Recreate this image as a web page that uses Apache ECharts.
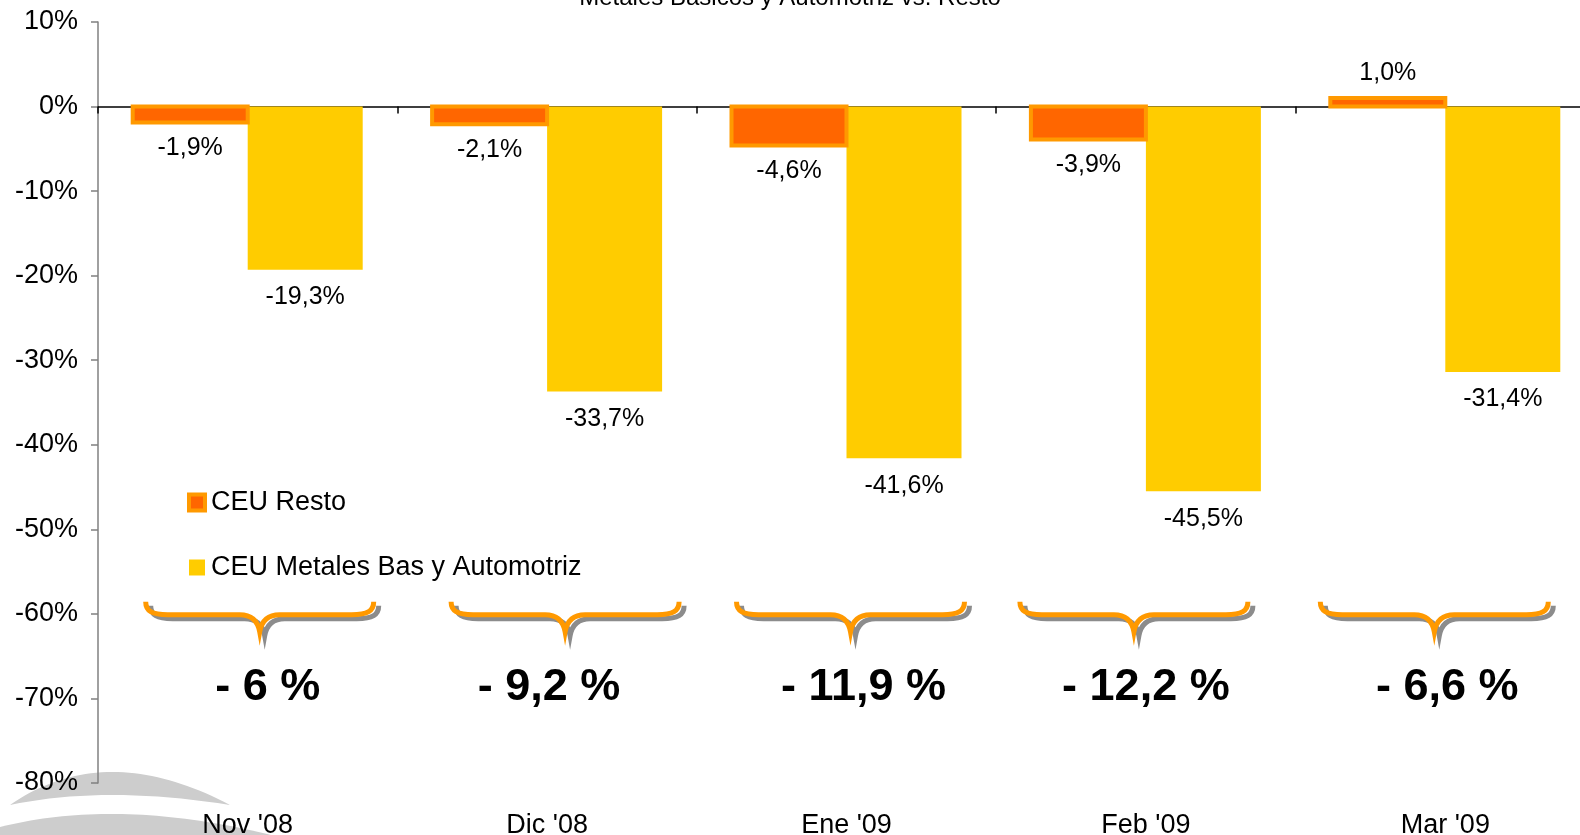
<!DOCTYPE html>
<html><head><meta charset="utf-8">
<script src="https://cdn.jsdelivr.net/npm/echarts@6/dist/echarts.min.js"></script>
<style>html,body{margin:0;padding:0;background:#fff}#c{width:1580px;height:835px}</style>
</head><body><div id="c"></div>
<script>
// ---- data ----
const titleText = 'Metales Básicos y Automotriz vs. Resto';
const categories = ["Nov '08", "Dic '08", "Ene '09", "Feb '09", "Mar '09"];
const seriesNames = ['CEU Resto', 'CEU Metales Bas y Automotriz'];
const ceuResto = [-1.9, -2.1, -4.6, -3.9, 1.0];
const ceuMetales = [-19.3, -33.7, -41.6, -45.5, -31.4];
const groupTotals = [-6, -9.2, -11.9, -12.2, -6.6];

// ---- layout / style constants ----
const FONT = 'Arial, "Liberation Sans", sans-serif';
const BAR_W = 115;
const braceLevel = -60.1;
const braceShift = [12, 18, 4, -12, -11];
const totalShift = [20, 2, 17, 0, 2];

const fmtPct = v => v.toFixed(1).replace('.', ',') + '%';
const fmtTotal = v => '- ' + String(Math.abs(v)).replace('.', ',') + ' %';

// bar drawn through the axes' scales (api.coord); side -1 = left of category centre, 0 = right
function barRenderer(side, fill, stroke, lineWidth, gapNeg, gapPos) {
  return function (params, api) {
    const c = api.value(0), v = api.value(1);
    const base = api.coord([c, 0]);
    const end = api.coord([c, v]);
    const x = base[0] + side * BAR_W;
    const y = Math.min(base[1], end[1]);
    const h = Math.abs(end[1] - base[1]);
    const neg = v < 0;
    const rectStyle = { fill: fill };
    if (stroke) { rectStyle.stroke = stroke; rectStyle.lineWidth = lineWidth; }
    return {
      type: 'group',
      children: [
        { type: 'rect', shape: { x: x, y: y, width: BAR_W, height: h }, style: rectStyle },
        { type: 'text', x: x + BAR_W / 2, y: neg ? end[1] + gapNeg : end[1] - gapPos,
          style: { text: fmtPct(v), font: '25px ' + FONT, fill: '#000', align: 'center', verticalAlign: neg ? 'top' : 'bottom' } }
      ]
    };
  };
}

// decorative logo swoosh outline (quadratic curves sampled to polygon points)
function quad(p0, c, p1, n) {
  const pts = [];
  for (let k = 0; k <= n; k++) {
    const t = k / n, u = 1 - t;
    pts.push([u * u * p0[0] + 2 * u * t * c[0] + t * t * p1[0], u * u * p0[1] + 2 * u * t * c[1] + t * t * p1[1]]);
  }
  return pts;
}
const swoosh1 = quad([10, 805], [105, 739], [230, 805], 40).concat(quad([230, 805], [105, 785], [10, 805], 40));
const swoosh2 = quad([0, 827], [120, 797], [275, 836], 40).concat([[0, 836]]);

const chart = echarts.init(document.getElementById('c'));
try {
chart.setOption({
  animation: false,
  backgroundColor: '#fff',
  textStyle: { fontFamily: FONT },
  title: {
    text: titleText, left: 'center', top: -19,
    textStyle: { fontSize: 24, fontWeight: 'normal', color: '#000', fontFamily: FONT }
  },
  legend: {
    orient: 'vertical', left: 182, top: 484, itemWidth: 16, itemHeight: 16, itemGap: 38,
    icon: 'rect',
    data: [
      { name: seriesNames[0], itemStyle: { color: '#FF6600', borderColor: '#FF9900', borderWidth: 4 } },
      { name: seriesNames[1], itemStyle: { color: '#FFCC00', borderWidth: 0 } }
    ],
    textStyle: { fontSize: 27, color: '#000', fontFamily: FONT, lineHeight: 27, padding: [0, 0, 0, 1] }
  },
  grid: { left: 98, right: -15, top: 22, bottom: 52, containLabel: false, outerBoundsMode: 'none' },
  xAxis: [
    {
      type: 'category', data: categories, position: 'bottom',
      axisLine: { show: false, onZero: false }, axisTick: { show: false },
      axisLabel: { fontSize: 27, color: '#000', margin: 29, fontFamily: FONT }
    },
    {
      type: 'category', data: categories, position: 'bottom',
      axisLine: { show: true, onZero: true, lineStyle: { color: '#000', width: 1.5 } },
      axisTick: { show: true, length: 7, lineStyle: { color: '#000', width: 1.5 } },
      axisLabel: { show: false }
    }
  ],
  yAxis: {
    type: 'value', min: -80, max: 10, interval: 10,
    axisLine: { show: true, lineStyle: { color: '#808080', width: 1.5 } },
    axisTick: { show: true, length: 7, lineStyle: { color: '#808080', width: 1.5 } },
    splitLine: { show: false },
    axisLabel: { formatter: '{value}%', fontSize: 27, color: '#000', margin: 20, padding: [3, 0, 0, 0], fontFamily: FONT }
  },
  graphic: [
    { type: 'polygon', z: -10, shape: { points: swoosh1 }, style: { fill: '#CDCDCD' } },
    { type: 'polygon', z: -10, shape: { points: swoosh2 }, style: { fill: '#CDCDCD' } }
  ],
  series: [
    {
      name: seriesNames[0], type: 'custom', xAxisIndex: 0, yAxisIndex: 0, z: 3,
      itemStyle: { color: '#FF6600' },
      data: ceuResto.map((v, i) => [i, v]),
      encode: { x: 0, y: 1 },
      renderItem: barRenderer(-1, '#FF6600', '#FF9900', 4, 13, 12)
    },
    {
      name: seriesNames[1], type: 'custom', xAxisIndex: 0, yAxisIndex: 0, z: 2,
      itemStyle: { color: '#FFCC00' },
      data: ceuMetales.map((v, i) => [i, v]),
      encode: { x: 0, y: 1 },
      renderItem: barRenderer(0, '#FFCC00', null, 0, 15, 12)
    },
    {
      type: 'custom', xAxisIndex: 0, yAxisIndex: 0, z: 5,
      data: groupTotals.map((v, i) => [i, braceLevel, v]),
      encode: { x: 0, y: 1 },
      renderItem: function (params, api) {
        const i = params.dataIndex;
        const p = api.coord([api.value(0), api.value(1)]);
        const cx = p[0] + braceShift[i];
        const cy = p[1];
        const w = 228;
        const x0 = cx - w / 2, x1 = cx + w / 2;
        const top = cy - 13, mid = cy, bot = cy + 17;
        const d = 'M' + x0 + ' ' + top +
          ' C' + x0 + ' ' + (top + 9) + ' ' + (x0 + 6) + ' ' + mid + ' ' + (x0 + 22) + ' ' + mid +
          ' L' + (cx - 20) + ' ' + mid +
          ' C' + (cx - 8) + ' ' + mid + ' ' + (cx - 2) + ' ' + (mid + 6) + ' ' + cx + ' ' + bot +
          ' C' + (cx + 2) + ' ' + (mid + 6) + ' ' + (cx + 8) + ' ' + mid + ' ' + (cx + 20) + ' ' + mid +
          ' L' + (x1 - 22) + ' ' + mid +
          ' C' + (x1 - 6) + ' ' + mid + ' ' + x1 + ' ' + (top + 9) + ' ' + x1 + ' ' + top;
        return {
          type: 'group',
          children: [
            { type: 'path', x: 5, y: 4, shape: { pathData: d }, style: { fill: 'none', stroke: '#8C8C8C', lineWidth: 5 } },
            { type: 'path', shape: { pathData: d }, style: { fill: 'none', stroke: '#FF9900', lineWidth: 5 } },
            { type: 'text', x: p[0] + totalShift[i], y: bot + 56,
              style: { text: fmtTotal(api.value(2)), font: 'bold 45px ' + FONT, fill: '#000', align: 'center', verticalAlign: 'middle' } }
          ]
        };
      }
    }
  ]
});
} catch (err) {
  const d = document.createElement('pre');
  d.style.cssText = 'position:absolute;left:300px;top:200px;font-size:14px;color:red';
  d.textContent = String(err && err.stack || err);
  document.body.appendChild(d);
}
</script>
</body></html>
